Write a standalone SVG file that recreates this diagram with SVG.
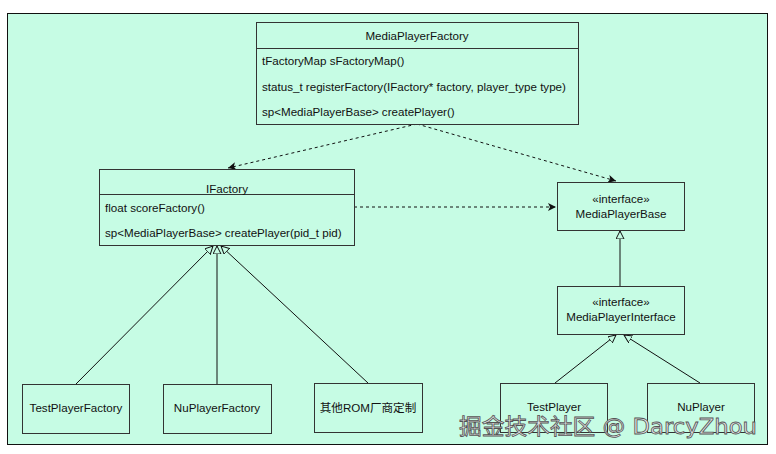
<svg xmlns="http://www.w3.org/2000/svg" width="776" height="454" viewBox="0 0 776 454">
<defs>
<style>
.box{fill:#c6fce4;stroke:#333;stroke-width:1}
.t{font-family:"Liberation Sans",Arial,"Noto Sans CJK SC",sans-serif;font-size:11.6px;fill:#111}
.c{text-anchor:middle}
.dash{fill:none;stroke:#111;stroke-width:1;stroke-dasharray:3,3}
.line{fill:none;stroke:#111;stroke-width:1}
.wm{font-family:"DejaVu Sans","Noto Sans CJK SC",sans-serif;font-size:21.5px;fill:#e6e6e6;stroke:#555;stroke-width:0.8}
</style>
<marker id="arr" markerWidth="10" markerHeight="10" refX="8" refY="4" orient="auto" markerUnits="userSpaceOnUse">
<path d="M0,0 L8,4 L0,8 L2,4 Z" fill="#111"/>
</marker>
<marker id="tri" markerWidth="12" markerHeight="12" refX="8" refY="4" orient="auto" markerUnits="userSpaceOnUse">
<path d="M0,0 L8,4 L0,8 Z" fill="#c6fce4" stroke="#111" stroke-width="1"/>
</marker>
</defs>
<rect x="0" y="0" width="776" height="454" fill="#ffffff"/>
<rect x="7.500" y="13.500" width="760" height="431" fill="#c6fce4" stroke="#111" stroke-width="1"/>

<g id="connectors">
<path class="dash" d="M417,124 L228,168" marker-end="url(#arr)"/>
<path class="dash" d="M417,124 L616,181" marker-end="url(#arr)"/>
<path class="dash" d="M354,207 L556,207" marker-end="url(#arr)"/>
<path class="line" d="M620,286 L620,231" marker-end="url(#tri)"/>
<path class="line" d="M76,384 L213,246" marker-end="url(#tri)"/>
<path class="line" d="M217,384 L217,246" marker-end="url(#tri)"/>
<path class="line" d="M368,383 L221,246" marker-end="url(#tri)"/>
<path class="line" d="M555,383 L616,335" marker-end="url(#tri)"/>
<path class="line" d="M700,383 L624,335" marker-end="url(#tri)"/>
</g>

<g id="MediaPlayerFactory">
<rect class="box" x="256.500" y="22.500" width="322" height="102"/>
<line x1="256.500" y1="48.500" x2="578.500" y2="48.500" stroke="#333"/>
<text class="t c" x="417" y="40">MediaPlayerFactory</text>
<text class="t" x="262" y="65">tFactoryMap sFactoryMap()</text>
<text class="t" x="262" y="91">status_t registerFactory(IFactory* factory, player_type type)</text>
<text class="t" x="262" y="116">sp&lt;MediaPlayerBase&gt; createPlayer()</text>
</g>

<g id="IFactory">
<rect class="box" x="99.500" y="169.500" width="255" height="76"/>
<line x1="99.500" y1="194.500" x2="354.500" y2="194.500" stroke="#333"/>
<text class="t c" x="227" y="193">IFactory</text>
<text class="t" x="105" y="212">float scoreFactory()</text>
<text class="t" x="105" y="237">sp&lt;MediaPlayerBase&gt; createPlayer(pid_t pid)</text>
</g>

<g id="MediaPlayerBase">
<rect class="box" x="557.500" y="182.500" width="127" height="48"/>
<text class="t c" x="621" y="203">«interface»</text>
<text class="t c" x="621" y="218">MediaPlayerBase</text>
</g>

<g id="MediaPlayerInterface">
<rect class="box" x="557.500" y="286.500" width="127" height="48"/>
<text class="t c" x="621" y="306">«interface»</text>
<text class="t c" x="621" y="321">MediaPlayerInterface</text>
</g>

<g id="TestPlayerFactory">
<rect class="box" x="22.500" y="384.500" width="107" height="49"/>
<text class="t c" x="76" y="412">TestPlayerFactory</text>
</g>

<g id="NuPlayerFactory">
<rect class="box" x="163.500" y="384.500" width="108" height="49"/>
<text class="t c" x="217" y="412">NuPlayerFactory</text>
</g>

<g id="OtherROM">
<rect class="box" x="314.500" y="383.500" width="108" height="49"/>
<text class="t c" x="368" y="412">其他ROM厂商定制</text>
</g>

<g id="TestPlayer">
<rect class="box" x="500.500" y="383.500" width="107" height="49"/>
<text class="t c" x="554" y="411">TestPlayer</text>
</g>

<g id="NuPlayer">
<rect class="box" x="647.500" y="383.500" width="107" height="49"/>
<text class="t c" x="701" y="411">NuPlayer</text>
</g>

<text class="wm" x="459" y="434" textLength="298" lengthAdjust="spacingAndGlyphs">掘金技术社区 @ DarcyZhou</text>
</svg>
